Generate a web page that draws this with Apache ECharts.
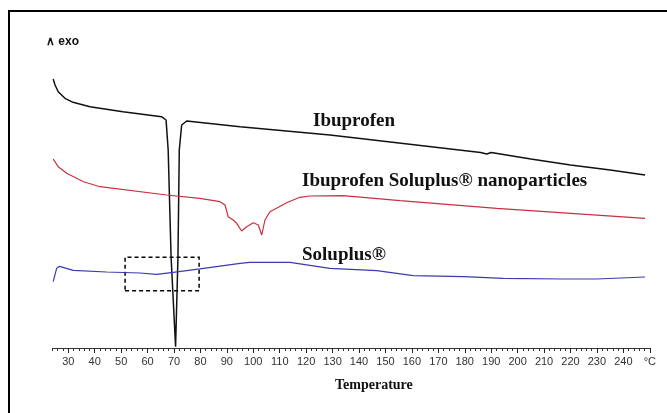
<!DOCTYPE html>
<html>
<head>
<meta charset="utf-8">
<script src="https://cdn.jsdelivr.net/npm/echarts@6/dist/echarts.min.js"></script>
<style>
html,body{margin:0;padding:0;background:#fff;}
#chart{width:667px;height:413px;}
</style>
</head>
<body>
<div id="chart"></div>
<script>
// Temperature (°C) and heat flow (arbitrary units, exo up)
const ibuT  = [24.3, 25.0, 26.2, 28.75, 31.8, 38.2, 50.7, 65.3, 67.0, 67.8, 68.9, 70.6, 71.5, 72.0, 72.9, 74.8, 95, 129, 160, 186, 188.3, 190, 205, 220, 235, 248.2];
const ibuHF = [269, 263, 256.3, 249.7, 245.7, 241.3, 236.3, 231.3, 228, 198, 91, 1.3, 91, 198, 223, 227, 221.3, 213, 203.5, 195.5, 194, 195.5, 189, 183, 178, 173];

const nanoT  = [24.3, 26.2, 29.4, 35.8, 42.0, 67.2, 79.8, 87.4, 89.3, 90.5, 92.4, 93.7, 95.6, 97.5, 100.0, 101.9, 103.2, 104.4, 106.3, 108.8, 112.6, 117.6, 121.4, 134, 155.5, 192.1, 248.2];
const nanoHF = [189, 181.3, 174.7, 166.3, 161.3, 153, 149.7, 146.3, 143, 131.3, 128, 124.7, 117, 121.3, 125.3, 123, 113, 128, 136.3, 139.7, 145.3, 150.7, 152, 152.3, 147.3, 139.7, 129.7];

const soluT  = [24.3, 25.6, 26.7, 31.9, 44.5, 57.1, 63.4, 69.7, 79.8, 95, 98.7, 113.9, 129, 146.7, 160.5, 179.5, 194.6, 217.3, 229.9, 248.2];
const soluHF = [66.3, 79.7, 81.7, 77.7, 76, 75, 73.7, 75.7, 79.2, 84.7, 85.7, 85.7, 79.7, 77.3, 72.3, 71.3, 69.7, 69, 69, 71];

const seriesNames = ['Ibuprofen', 'Ibuprofen Soluplus® nanoparticles', 'Soluplus®'];
const tickLabels = [30, 40, 50, 60, 70, 80, 90, 100, 110, 120, 130, 140, 150, 160, 170, 180, 190, 200, 210, 220, 230, 240, 250];
const minorTicks = [];
for (let t = 24; t <= 250; t += 2) minorTicks.push(t);
const majorTicks = tickLabels.slice();
const zoomBox = [[51.5, 57.3], [79.5, 90.7]];

const zip = (a, b) => a.map((v, i) => [v, b[i]]);

const chart = echarts.init(document.getElementById('chart'), null, {renderer: 'canvas'});
const serif = '"Liberation Serif", "Times New Roman", serif';
chart.setOption({
  animation: false,
  backgroundColor: '#fff',
  grid: {left: 52.4, right: 17.2, top: 8, bottom: 65},
  xAxis: [{
    type: 'value', min: 24, max: 250,
    axisLine: {show: true, lineStyle: {color: '#333', width: 1}},
    axisTick: {show: true, customValues: minorTicks, length: 3, lineStyle: {color: '#333'}},
    axisLabel: {customValues: tickLabels, color: '#333', fontSize: 11, fontFamily: '"Liberation Sans", Arial, sans-serif', margin: 8,
      formatter: v => v === 250 ? '°C' : String(v)},
    splitLine: {show: false}
  }, {
    type: 'value', min: 24, max: 250, position: 'bottom',
    axisLine: {show: false},
    axisTick: {show: true, customValues: majorTicks, length: 5, lineStyle: {color: '#222'}},
    axisLabel: {show: false},
    splitLine: {show: false}
  }],
  yAxis: {type: 'value', min: 0, max: 340, show: false},
  series: [{
    name: seriesNames[0], type: 'line', data: zip(ibuT, ibuHF), showSymbol: false,
    lineStyle: {color: '#111', width: 1.5}
  }, {
    name: seriesNames[1], type: 'line', data: zip(nanoT, nanoHF), showSymbol: false,
    lineStyle: {color: '#c83040', width: 1.2}
  }, {
    name: seriesNames[2], type: 'line', data: zip(soluT, soluHF), showSymbol: false,
    lineStyle: {color: '#3a3ab4', width: 1.2},
    markArea: {
      silent: true,
      itemStyle: {color: 'rgba(0,0,0,0)', borderColor: '#000', borderWidth: 1.5, borderType: [4, 3]},
      data: [[{coord: zoomBox[0]}, {coord: zoomBox[1]}]]
    }
  }],
  graphic: [
    {type: 'rect', shape: {x: 9, y: 11, width: 700, height: 500}, style: {fill: 'none', stroke: '#000', lineWidth: 2}},
    {type: 'text', left: 46, top: 36, style: {text: '∧ exo', font: 'bold 12px "Liberation Sans", Arial, sans-serif', fill: '#111'}},
    {type: 'text', x: 313, y: 121, style: {text: seriesNames[0], font: 'bold 19px ' + serif, fill: '#111', verticalAlign: 'middle'}},
    {type: 'text', x: 302, y: 181.5, style: {text: seriesNames[1], font: 'bold 19px ' + serif, fill: '#111', verticalAlign: 'middle'}},
    {type: 'text', x: 302, y: 255, style: {text: seriesNames[2], font: 'bold 19px ' + serif, fill: '#111', verticalAlign: 'middle'}},
    {type: 'text', x: 335, y: 385, style: {text: 'Temperature', font: 'bold 14px ' + serif, fill: '#111', verticalAlign: 'middle'}}
  ]
});
</script>
</body>
</html>
